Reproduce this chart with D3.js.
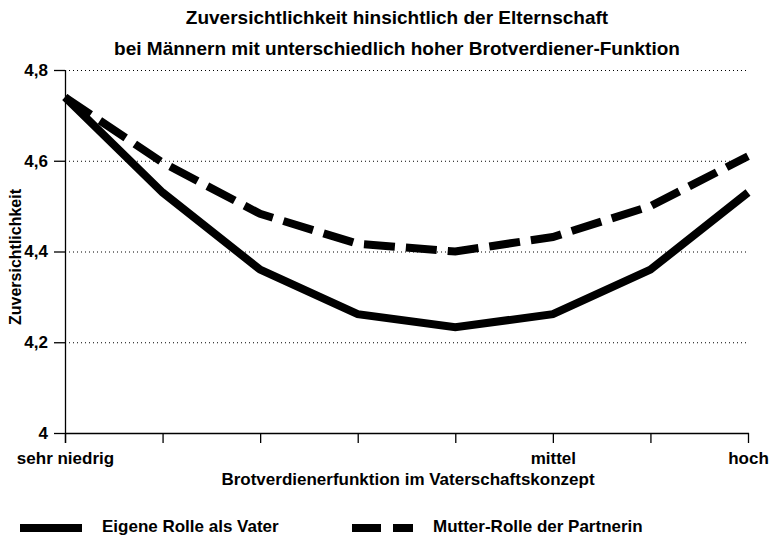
<!DOCTYPE html>
<html lang="de">
<head>
<meta charset="utf-8">
<title>Zuversichtlichkeit</title>
<script src="https://cdn.jsdelivr.net/npm/d3@7/dist/d3.min.js"></script>
<style>
  body { margin: 0; background: #fff; }
  svg text { font-family: "Liberation Sans", Arial, sans-serif; font-weight: bold; fill: #000; }
  .grid line { stroke: #000; stroke-width: 1; stroke-dasharray: 1,3; }
  .axis path, .axis line { stroke: #000; stroke-width: 1.3; }
</style>
</head>
<body>
<div id="chart"></div>
<script>
// data
var steps = [0, 1, 2, 3, 4, 5, 6, 7];
var stepLabels = ["sehr niedrig", "", "", "", "", "mittel", "", "hoch"];
var eigeneRolle = [4.74, 4.53, 4.36, 4.262, 4.233, 4.262, 4.36, 4.53];
var mutterRolle = [4.74, 4.596, 4.483, 4.417, 4.40, 4.432, 4.50, 4.61];
var yTicks = [4, 4.2, 4.4, 4.6, 4.8];

var W = 771, H = 537;
var margin = {top: 70, right: 22, bottom: 104, left: 65};
var width = W - margin.left - margin.right,
    height = H - margin.top - margin.bottom;

var svg = d3.select("#chart").append("svg")
    .attr("width", W).attr("height", H);

var g = svg.append("g")
    .attr("transform", "translate(" + margin.left + "," + margin.top + ")");

var x = d3.scalePoint().domain(steps).range([0, width - 1]);
var y = d3.scaleLinear().domain([4, 4.8]).range([height, 0]);

var fmt = function(d) { return d3.format(".1f")(d).replace(".", ",").replace(",0", ""); };

// dotted grid
g.append("g").attr("class", "grid")
  .selectAll("line").data(yTicks.filter(function(d) { return d > 4; }))
  .enter().append("line")
    .attr("x1", 0).attr("x2", x(7))
    .attr("y1", function(d) { return y(d) + 0.5; })
    .attr("y2", function(d) { return y(d) + 0.5; });

// axes
var yAxis = g.append("g").attr("class", "axis")
    .call(d3.axisLeft(y).tickValues(yTicks).tickFormat(fmt).tickSize(11).tickSizeOuter(0));
yAxis.select(".domain").attr("d", "M0.5,0V" + (height + 10));
yAxis.selectAll("text").attr("font-size", 17).attr("x", -17);

var xAxis = g.append("g").attr("class", "axis")
    .attr("transform", "translate(0," + height + ")")
    .call(d3.axisBottom(x).tickFormat(function(d) { return stepLabels[d]; }).tickSize(10).tickSizeOuter(0));
xAxis.select(".domain").attr("d", "M0," + 0.5 + "H" + (x(7) + 1));
xAxis.selectAll("text").attr("font-size", 17).attr("dy", 0).attr("y", 31);

// lines
var line = d3.line()
    .x(function(d, i) { return x(steps[i]); })
    .y(function(d) { return y(d); });

g.append("path").datum(eigeneRolle)
    .attr("d", line)
    .attr("fill", "none").attr("stroke", "#000").attr("stroke-width", 8);

g.append("path").datum(mutterRolle)
    .attr("d", line)
    .attr("fill", "none").attr("stroke", "#000").attr("stroke-width", 8)
    .attr("stroke-dasharray", "31,11");

// titles
svg.append("text").attr("x", 397).attr("y", 24).attr("text-anchor", "middle")
    .attr("font-size", 19).text("Zuversichtlichkeit hinsichtlich der Elternschaft");
svg.append("text").attr("x", 397).attr("y", 55).attr("text-anchor", "middle")
    .attr("font-size", 19).text("bei Männern mit unterschiedlich hoher Brotverdiener-Funktion");

svg.append("text").attr("x", 408).attr("y", 485).attr("text-anchor", "middle")
    .attr("font-size", 17).text("Brotverdienerfunktion im Vaterschaftskonzept");

svg.append("text")
    .attr("transform", "translate(21,257) rotate(-90)")
    .attr("text-anchor", "middle")
    .attr("font-size", 16).text("Zuversichtlichkeit");

// legend
var legend = svg.append("g");
legend.append("line").attr("x1", 20).attr("x2", 82).attr("y1", 528).attr("y2", 528)
    .attr("stroke", "#000").attr("stroke-width", 8);
legend.append("text").attr("x", 102).attr("y", 532).attr("font-size", 17).text("Eigene Rolle als Vater");
legend.append("line").attr("x1", 352).attr("x2", 413).attr("y1", 528).attr("y2", 528)
    .attr("stroke", "#000").attr("stroke-width", 8).attr("stroke-dasharray", "29,12");
legend.append("text").attr("x", 433).attr("y", 532).attr("font-size", 17).text("Mutter-Rolle der Partnerin");
</script>
</body>
</html>
